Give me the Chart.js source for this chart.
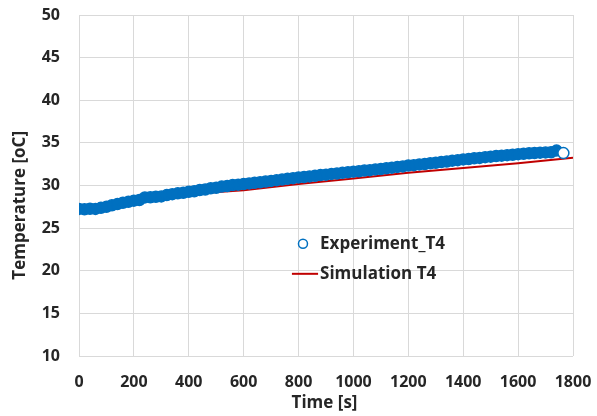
<!DOCTYPE html>
<html>
<head>
<meta charset="utf-8">
<script src="https://cdn.jsdelivr.net/npm/chart.js@4/dist/chart.umd.min.js"></script>
<style>
    html, body { margin: 0; padding: 0; background: #fff; }
    canvas { display: block; }
</style>
</head>
<body>
<canvas id="grafico" width="597" height="416"></canvas>
<script>
// time axis of the measured points [s]
const expTime = [0, 20, 40, 60, 80, 100, 120, 140, 160, 180, 200, 220, 240, 260, 280, 300, 320, 340, 360, 380,
    400, 420, 440, 460, 480, 500, 520, 540, 560, 580, 600, 620, 640, 660, 680, 700, 720, 740, 760, 780,
    800, 820, 840, 860, 880, 900, 920, 940, 960, 980, 1000, 1020, 1040, 1060, 1080, 1100, 1120, 1140, 1160, 1180,
    1200, 1220, 1240, 1260, 1280, 1300, 1320, 1340, 1360, 1380, 1400, 1420, 1440, 1460, 1480, 1500, 1520, 1540, 1560, 1580,
    1600, 1620, 1640, 1660, 1680, 1700, 1720, 1740, 1765];
const expTemp = [27.25, 27.2, 27.27, 27.25, 27.38, 27.5, 27.68, 27.82, 27.98, 28.08, 28.22, 28.3, 28.6, 28.62, 28.68, 28.72, 28.88, 28.98, 29.08, 29.14,
    29.27, 29.33, 29.47, 29.53, 29.68, 29.74, 29.87, 29.94, 30.06, 30.1, 30.18, 30.24, 30.32, 30.38, 30.47, 30.54, 30.63, 30.69, 30.79, 30.86,
    30.95, 30.99, 31.07, 31.13, 31.22, 31.27, 31.36, 31.4, 31.49, 31.54, 31.62, 31.67, 31.76, 31.8, 31.89, 31.94, 32.02, 32.09, 32.18, 32.24,
    32.35, 32.39, 32.47, 32.51, 32.61, 32.67, 32.76, 32.81, 32.91, 32.97, 33.06, 33.1, 33.19, 33.24, 33.32, 33.38, 33.46, 33.5, 33.56, 33.61,
    33.68, 33.72, 33.78, 33.81, 33.85, 33.88, 33.9, 34.1, 33.8];

// simulated curve
const simTime = [0, 200, 400, 600, 800, 1000, 1200, 1400, 1600, 1800];
const simTemp = [27.3, 28.2, 29.0, 29.45, 30.17, 30.82, 31.5, 32.05, 32.62, 33.25];

const xTicks = [0, 200, 400, 600, 800, 1000, 1200, 1400, 1600, 1800];
const yTicks = [10, 15, 20, 25, 30, 35, 40, 45, 50];

const azul = '#0070C0';
const vermelho = '#C00000';
const corTexto = '#262626';
const familia = '"Open Sans", "Noto Sans", sans-serif';
const fonteTick = { family: familia, size: 16, weight: 'bold' };
const fonteTexto = { family: familia, size: 17, weight: 'bold' };

// axis titles and legend, placed like the spreadsheet layout
const textosExtras = {
    id: 'textosExtras',
    afterDraw(chart) {
        const ctx = chart.ctx;
        const a = chart.chartArea;
        const w = a.right - a.left;
        const h = a.bottom - a.top;
        const ds = chart.data.datasets;
        ctx.save();
        ctx.font = `bold ${fonteTexto.size}px ${familia}`;
        ctx.fillStyle = corTexto;
        ctx.textBaseline = 'middle';

        // x title
        ctx.textAlign = 'center';
        ctx.fillText('Time [s]', a.left + w * 0.497, a.bottom + 47);

        // y title
        ctx.save();
        ctx.translate(20, a.top + h * 0.558);
        ctx.rotate(-Math.PI / 2);
        ctx.fillText('Temperature [oC]', 0, 0);
        ctx.restore();

        // legend
        ctx.textAlign = 'left';
        const y1 = a.top + h * 0.671;
        const y2 = a.top + h * 0.759;
        const xc = a.left + w * 0.4534;
        const xl = a.left + w * 0.431;
        const xt = a.left + w * 0.488;

        ctx.beginPath();
        ctx.arc(xc, y1, 4.5, 0, Math.PI * 2);
        ctx.fillStyle = '#fff';
        ctx.fill();
        ctx.lineWidth = 1.5;
        ctx.strokeStyle = azul;
        ctx.stroke();
        ctx.fillStyle = corTexto;
        ctx.fillText(ds[0].label, xt, y1);

        ctx.beginPath();
        ctx.moveTo(xl, y2);
        ctx.lineTo(xt - 2, y2);
        ctx.lineWidth = 2;
        ctx.strokeStyle = vermelho;
        ctx.stroke();
        ctx.fillText(ds[1].label, xt, y2);
        ctx.restore();
    }
};

new Chart(document.getElementById('grafico'), {
    type: 'scatter',
    data: {
        datasets: [
            {
                label: 'Experiment_T4',
                data: expTime.map((t, i) => ({ x: t, y: expTemp[i] })),
                pointRadius: 5.5,
                borderWidth: 1.5,
                borderColor: azul,
                backgroundColor: c => c.dataIndex === expTime.length - 1 ? '#fff' : azul,
                showLine: false
            },
            {
                label: 'Simulation T4',
                data: simTime.map((t, i) => ({ x: t, y: simTemp[i] })),
                showLine: true,
                borderColor: vermelho,
                borderWidth: 2,
                pointRadius: 0,
                tension: 0
            }
        ]
    },
    options: {
        responsive: false,
        animation: false,
        devicePixelRatio: 1,
        layout: { padding: { top: 15, right: 24, left: 0, bottom: 0 } },
        plugins: {
            legend: { display: false },
            tooltip: { enabled: false }
        },
        scales: {
            x: {
                type: 'linear',
                min: 0,
                max: 1800,
                afterBuildTicks: s => { s.ticks = xTicks.map(v => ({ value: v })); },
                afterFit: s => { s.height = 60; },
                ticks: { font: fonteTick, color: corTexto, padding: 0, maxRotation: 0, callback: v => String(v) },
                grid: { color: '#d9d9d9', drawTicks: true, tickLength: 17, tickColor: 'rgba(0,0,0,0)' },
                border: { display: false }
            },
            y: {
                min: 10,
                max: 50,
                afterBuildTicks: s => { s.ticks = yTicks.map(v => ({ value: v })); },
                afterFit: s => { s.width = 79; },
                ticks: { font: fonteTick, color: corTexto, padding: 0, callback: v => String(v) },
                grid: { color: '#d9d9d9', drawTicks: true, tickLength: 19, tickColor: 'rgba(0,0,0,0)' },
                border: { display: false }
            }
        }
    },
    plugins: [textosExtras]
});
</script>
</body>
</html>
